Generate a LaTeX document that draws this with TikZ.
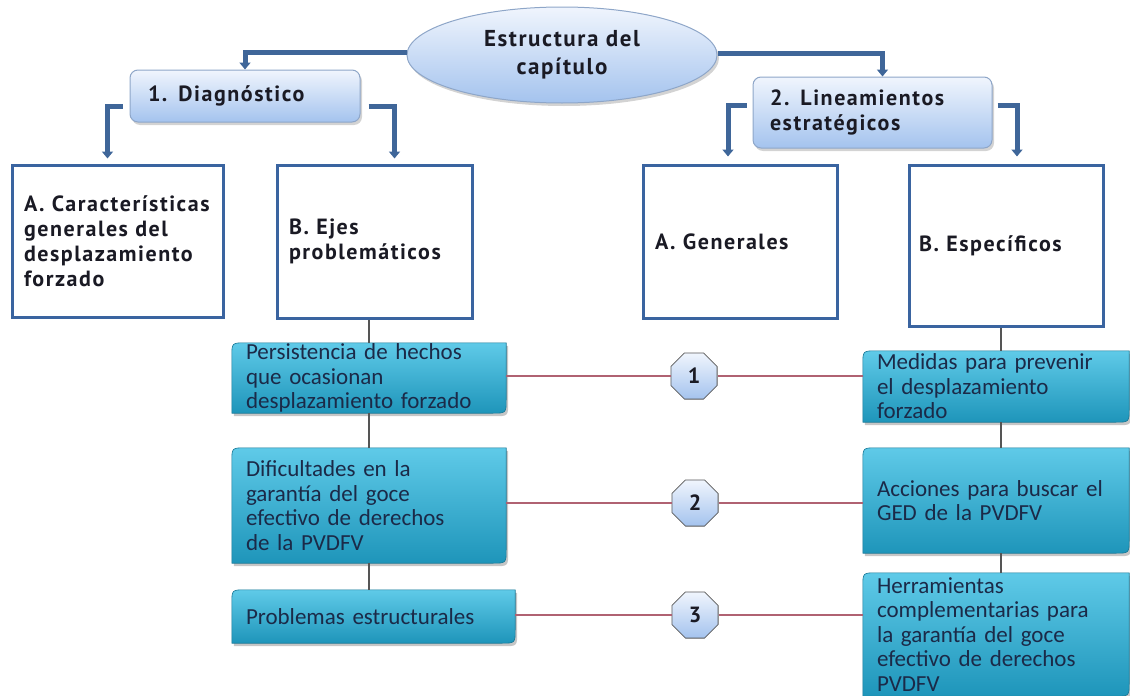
\documentclass[tikz,border=0pt]{standalone}
\usepackage{fontspec}
\newfontfamily\hfont[LetterSpace=7]{PT Sans}
\newfontfamily\tfont{Carlito}
\usetikzlibrary{shapes.geometric,arrows.meta,shadows,backgrounds,calc}
\definecolor{conncol}{HTML}{3F6699}
\definecolor{wbord}{HTML}{3A64A0}
\definecolor{lbtop}{HTML}{F0F5FD}
\definecolor{lbbot}{HTML}{A4C3EE}
\definecolor{lbord}{HTML}{8EA6C8}
\definecolor{tealtop}{HTML}{5FCAE8}
\definecolor{tealbot}{HTML}{1E95BA}
\definecolor{tealtxt}{HTML}{1B2A48}
\definecolor{redline}{HTML}{B06272}
\definecolor{grayline}{HTML}{555555}
\definecolor{headtxt}{HTML}{1A1A24}
\tikzset{
  headfont/.style={font=\hfont\bfseries\fontsize{22}{25}\selectfont, text=headtxt},
  lbnode/.style={draw=lbord, line width=1pt, top color=lbtop, bottom color=lbbot,
    drop shadow={opacity=0.35, shadow xshift=2pt, shadow yshift=-3pt}, headfont},
  wbox/.style={draw=wbord, line width=3pt, fill=white, headfont, align=left,
    inner xsep=12pt, inner ysep=0pt,
    drop shadow={opacity=0.2, shadow xshift=2pt, shadow yshift=-2pt}},
  tealnode/.style={draw=none, font=\tfont\fontsize{23}{24.5}\selectfont, text=tealtxt,
    align=left, inner xsep=14pt, inner ysep=0pt},
  tealfill/.style={top color=tealtop, bottom color=tealbot, draw=tealbot!80!black, line width=0.6pt,
    drop shadow={opacity=0.45, shadow xshift=2pt, shadow yshift=-3pt}},
  octo/.style={regular polygon, regular polygon sides=8, minimum size=50pt, inner sep=0pt,
    draw=gray!70!black, line width=0.8pt, top color=lbtop, bottom color=lbbot,
    font=\hfont\bfseries\fontsize{22}{25}\selectfont, text=headtxt},
  connarrow/.style={draw=conncol, line width=5pt, -{Triangle[width=11pt,length=7pt]}},
  redconn/.style={draw=redline, line width=1.4pt},
  grayconn/.style={draw=grayline, line width=2pt},
}
\newcommand\tealshape[1]{%
  \path[tealfill] ([yshift=-14pt]#1.north west) .. controls (#1.north west) .. ([xshift=14pt]#1.north west)
    -- (#1.north east) -- ([yshift=14pt]#1.south east) .. controls (#1.south east) .. ([xshift=-14pt]#1.south east)
    -- (#1.south west) -- cycle;}
\begin{document}
\begin{tikzpicture}[x=1pt,y=-1pt]
\useasboundingbox (0,0) rectangle (1130,696);
% top level
\node[ellipse, lbnode, minimum width=310pt, minimum height=96pt, inner sep=0pt, align=center,
  font=\hfont\bfseries\fontsize{23}{28}\selectfont] (ell) at (562,55) {Estructura del\\capítulo};
\node[lbnode, rounded corners=8pt, minimum width=230pt, minimum height=52pt, inner xsep=18pt, inner ysep=0pt,
  text width=194pt, align=left] (diag) at (245,96) {1. Diagnóstico};
\node[lbnode, rounded corners=8pt, minimum width=239pt, minimum height=71pt, inner xsep=17pt, inner ysep=0pt,
  text width=205pt, align=left] (lin) at (872.5,112.5) {2. Lineamientos\\estratégicos};
% white boxes
\node[wbox, minimum width=211pt, minimum height=152pt, text width=187pt] (ca) at (117.5,241)
  {A. Características\\generales del\\desplazamiento\\forzado};
\node[wbox, minimum width=195pt, minimum height=153pt, text width=171pt] (bejes) at (374.5,241.5)
  {B. Ejes\\problemáticos};
\node[wbox, minimum width=194pt, minimum height=153pt, text width=170pt] (gen) at (740,241.5)
  {A. Generales};
\node[wbox, minimum width=194pt, minimum height=161pt, text width=170pt, inner xsep=10pt, text width=174pt] (esp) at (1006,245.5)
  {B. Específicos};
% teal boxes
\node[tealnode, minimum width=274pt, minimum height=70pt, text width=246pt] (pers) at (369,378)
  {Persistencia de hechos\\que ocasionan\\desplazamiento forzado};
\node[tealnode, minimum width=274pt, minimum height=115pt, text width=246pt] (dif) at (369,505.5)
  {Dificultades en la\\garantía del goce\\efectivo de derechos\\de la PVDFV};
\node[tealnode, minimum width=283pt, minimum height=53pt, text width=255pt] (prob) at (373.5,616.5)
  {Problemas estructurales};
\node[tealnode, minimum width=266pt, minimum height=71pt, text width=238pt] (med) at (996,386.5)
  {Medidas para prevenir\\el desplazamiento\\forzado};
\node[tealnode, minimum width=266pt, minimum height=105pt, text width=238pt] (acc) at (996,500.5)
  {Acciones para buscar el\\GED de la PVDFV};
\node[tealnode, minimum width=266pt, minimum height=123pt, text width=238pt] (herr) at (996,634.5)
  {Herramientas\\complementarias para\\la garantía del goce\\efectivo de derechos\\PVDFV};
\begin{pgfonlayer}{background}
  \tealshape{pers}\tealshape{dif}\tealshape{prob}
  \tealshape{med}\tealshape{acc}\tealshape{herr}
\end{pgfonlayer}
% octagons
\node[octo] (o1) at (694,376) {1};
\node[octo] (o2) at (695,503) {2};
\node[octo] (o3) at (695,615) {3};
% thick elbow connectors
\draw[connarrow] ([yshift=3pt]ell.west) -| (diag.north);
\draw[connarrow] ([yshift=2pt]ell.east) -| ([xshift=10pt]lin.north);
\draw[connarrow] ([xshift=-7pt,yshift=-10pt]diag.west) -| ([xshift=-10pt,yshift=5pt]ca.north);
\draw[connarrow] ([xshift=8pt,yshift=-10pt]diag.east) -| ([xshift=20pt,yshift=5pt]bejes.north);
\draw[connarrow] ([xshift=-6pt,yshift=7pt]lin.west) -| ([xshift=-12pt,yshift=7pt]gen.north);
\draw[connarrow] ([xshift=5pt,yshift=7pt]lin.east) -| ([xshift=11pt,yshift=7pt]esp.north);
% gray vertical lines
\draw[grayconn] (pers.north |- bejes.south) -- (pers.north);
\draw[grayconn] (pers.south) -- (dif.north);
\draw[grayconn] (dif.south) -- (dif.south |- prob.north);
\draw[grayconn] ([xshift=5pt]med.north |- esp.south) -- ([xshift=5pt]med.north);
\draw[grayconn] ([xshift=5pt]med.south) -- ([xshift=5pt]acc.north);
\draw[grayconn] ([xshift=5pt]acc.south) -- ([xshift=5pt]herr.north);
% red lines
\draw[redconn] (pers.east |- o1.west) -- (o1.west);
\draw[redconn] (o1.east) -- (med.west |- o1.east);
\draw[redconn] (dif.east |- o2.west) -- (o2.west);
\draw[redconn] (o2.east) -- (acc.west |- o2.east);
\draw[redconn] (prob.east |- o3.west) -- (o3.west);
\draw[redconn] (o3.east) -- (herr.west |- o3.east);
\end{tikzpicture}
\end{document}
